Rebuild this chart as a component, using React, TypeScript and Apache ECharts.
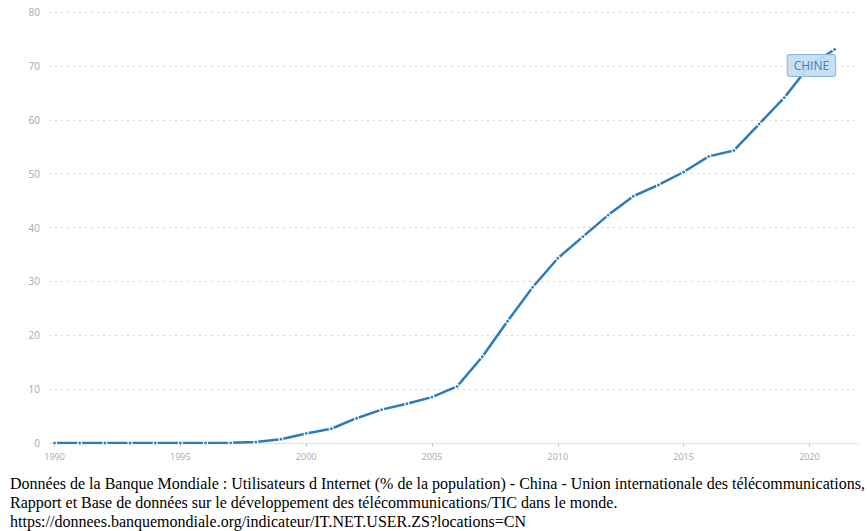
import React, { useEffect, useRef } from "react";
import * as echarts from "echarts";

// Internet users, China (% of population), 1990–2021
const years: number[] = [
  1990, 1991, 1992, 1993, 1994, 1995, 1996, 1997, 1998, 1999, 2000, 2001, 2002,
  2003, 2004, 2005, 2006, 2007, 2008, 2009, 2010, 2011, 2012, 2013, 2014, 2015,
  2016, 2017, 2018, 2019, 2020, 2021,
];
const usersPct: number[] = [
  0, 0, 0.002, 0.002, 0.001, 0.005, 0.013, 0.03, 0.17, 0.71, 1.78, 2.64, 4.6,
  6.2, 7.3, 8.52, 10.5, 16.0, 22.6, 28.9, 34.3, 38.3, 42.3, 45.8, 47.9, 50.3,
  53.2, 54.3, 59.2, 64.1, 70.05, 73.05,
];
const xTickYears: number[] = [1990, 1995, 2000, 2005, 2010, 2015, 2020];
const seriesName = "CHINE";
const labelYear = 2020;

const captionLines: string[] = [
  "Données de la Banque Mondiale : Utilisateurs d Internet (% de la population) - China - Union internationale des télécommunications,",
  "Rapport et Base de données sur le développement des télécommunications/TIC dans le monde.",
  "https://donnees.banquemondiale.org/indicateur/IT.NET.USER.ZS?locations=CN",
];

const LINE_COLOR = "#2b7bbd";

export default function App() {
  const ref = useRef<HTMLDivElement>(null);

  useEffect(() => {
    if (!ref.current) return;
    const chart = echarts.init(ref.current, undefined, { renderer: "svg" });

    const data = years.map((y, i) => {
      const point: any = { value: [y, usersPct[i]] };
      if (y === labelYear) {
        point.label = {
          show: true,
          position: "inside",
          offset: [2, 0],
          formatter: seriesName,
          color: "#3d82c0",
          fontFamily: "Open Sans, sans-serif",
          fontSize: 12,
          backgroundColor: "rgba(196, 221, 242, 0.92)",
          borderColor: "#8dbbe0",
          borderWidth: 1,
          borderRadius: 2,
          padding: [5, 6, 4, 6],
        };
      }
      return point;
    });

    chart.setOption({
      animation: false,
      grid: { left: 49, right: 9, top: 12, bottom: 27, containLabel: false },
      xAxis: {
        type: "value",
        min: 1989.78,
        max: 2021.93,
        splitLine: { show: false },
        axisLine: { show: true, lineStyle: { color: "#dbe4ec", width: 1 } },
        axisTick: {
          show: true,
          customValues: xTickYears,
          length: 4,
          lineStyle: { color: "#c8c8c8" },
        },
        axisLabel: {
          customValues: xTickYears,
          color: "#a8a8a8",
          fontSize: 9,
          fontFamily: "Open Sans, sans-serif",
          margin: 9,
          formatter: (v: number) => String(Math.round(v)),
        },
      },
      yAxis: {
        type: "value",
        min: 0,
        max: 80,
        interval: 10,
        axisLine: { show: false },
        axisTick: { show: false },
        axisLabel: {
          color: "#a8a8a8",
          fontSize: 10,
          fontFamily: "Open Sans, sans-serif",
          margin: 9,
        },
        splitLine: {
          show: true,
          lineStyle: { color: "#d6d6d6", width: 1, type: [2, 4] },
        },
      },
      series: [
        {
          name: seriesName,
          type: "line",
          data,
          showSymbol: true,
          symbol: "circle",
          symbolSize: 4,
          lineStyle: { color: LINE_COLOR, width: 2.5 },
          itemStyle: { color: LINE_COLOR, borderColor: "#ffffff", borderWidth: 1.2 },
          z: 3,
        },
      ],
    });

    return () => chart.dispose();
  }, []);

  return (
    <div
      style={{
        position: "absolute",
        left: 0,
        top: 0,
        width: 867,
        height: 531,
        background: "#ffffff",
        overflow: "hidden",
      }}
    >
      <div ref={ref} style={{ position: "absolute", left: 0, top: 0, width: 867, height: 470 }} />
      <div
        style={{
          position: "absolute",
          left: 10,
          top: 474,
          fontFamily: "'Liberation Serif', 'Times New Roman', serif",
          fontSize: 16,
          lineHeight: "19px",
          color: "#000",
          whiteSpace: "nowrap",
        }}
      >
        {captionLines.map((t, i) => (
          <div key={i}>{t}</div>
        ))}
      </div>
    </div>
  );
}
